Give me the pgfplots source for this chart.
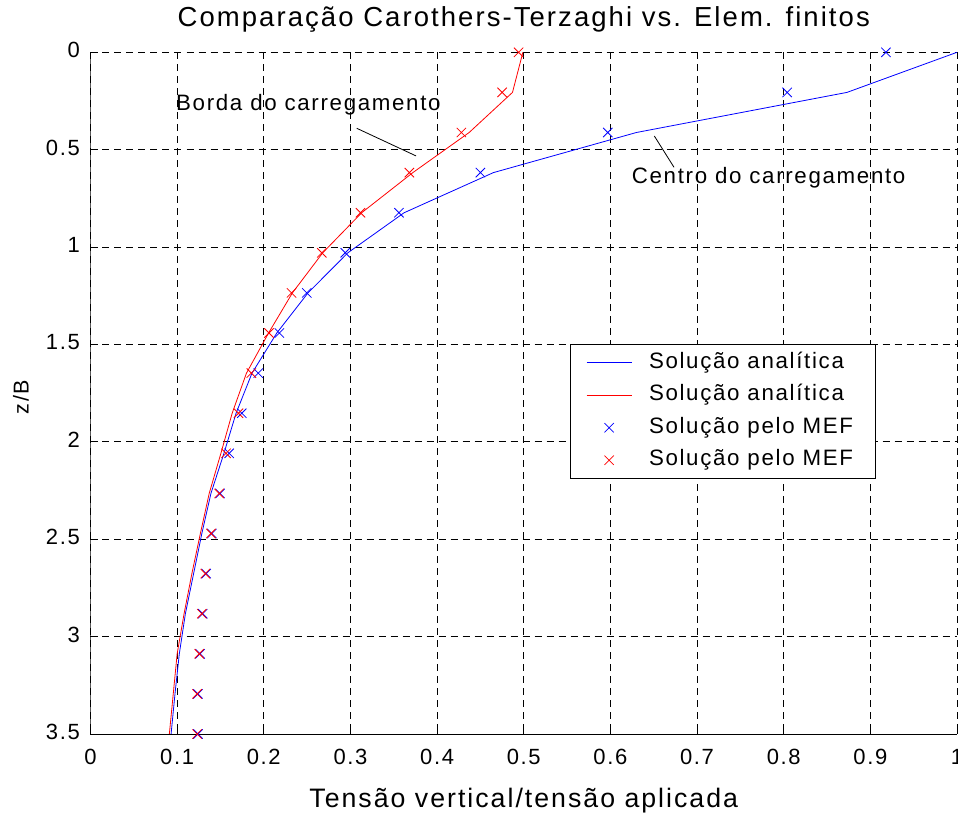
\documentclass[border=0pt]{standalone}
\usepackage{fontspec}
\setmainfont{Liberation Sans}[LetterSpace=7.5]
\usepackage{pgfplots}
\usepackage{pgfplotstable}
\pgfplotsset{compat=1.18}

\pgfplotstableread{
z        b       r       bm      rm
0.00000  1.000   0.499   0.918   0.494
0.20588  0.873   0.487   0.804   0.475
0.41176  0.630   0.437   0.597   0.428
0.61765  0.465   0.372   0.450   0.368
0.82353  0.362   0.313   0.356   0.3116
1.02941  0.297   0.268   0.294   0.267
1.23529  0.251   0.233   0.2496  0.232
1.44118  0.215   0.2055  0.218   0.206
1.64706  0.1864  0.180   0.1936  0.1856
1.85294  0.168   0.1635  0.1746  0.1708
2.05882  0.154   0.1505  0.160   0.1565
2.26471  0.139   0.137   0.1495  0.1485
2.47059  0.1285  0.1268  0.140   0.139
2.67647  0.119   0.117   0.1335  0.1325
2.88235  0.1095  0.108   0.1295  0.1285
3.08824  0.1025  0.100   0.1265  0.1255
3.29412  0.0975  0.0955  0.124   0.123
3.50000  0.093   0.091   0.124   0.123
}\data

\begin{document}
\begin{tikzpicture}
\begin{axis}[
  at={(0,0)}, anchor=south west,
  scale only axis, width=866.5bp, height=681.7bp,
  xmin=0, xmax=1, ymin=0, ymax=3.5, y dir=reverse,
  xtick={0,0.1,0.2,0.3,0.4,0.5,0.6,0.7,0.8,0.9,1},
  ytick={0,0.5,1,1.5,2,2.5,3,3.5},
  xticklabels={0,0.1,0.2,0.3,0.4,0.5,0.6,0.7,0.8,0.9,1},
  yticklabels={0,0.5,1,1.5,2,2.5,3,3.5},
  axis line style={draw=none},
  tick align=inside, major tick length=8bp,
  xtick pos=bottom, ytick pos=left,
  tick style={black, line width=0.8bp},
  grid=major,
  major grid style={black, line width=0.8bp, dash pattern=on 7bp off 5bp},
  ticklabel style={font=\fontsize{22bp}{24bp}\selectfont},
  xticklabel style={anchor=base, inner sep=0pt, yshift=-30bp},
  yticklabel style={anchor=east, inner sep=0pt, xshift=-10.5bp, yshift=2bp},
  title={Comparação Carothers-Terzaghi vs. Elem. finitos},
  title style={at={(axis description cs:0.5,1)}, anchor=base, yshift=20bp, inner sep=0pt,
    font=\fontsize{27.5bp}{30bp}\selectfont},
  xlabel={Tensão vertical/tensão aplicada},
  xlabel style={at={(axis description cs:0.5,0)}, anchor=base, yshift=-73bp, inner sep=0pt,
    font=\fontsize{26.7bp}{30bp}\selectfont},
  ylabel={z/B},
  ylabel style={at={(axis description cs:-0.0802,0.4941)}, anchor=center, inner sep=0pt,
    font=\fontsize{21.5bp}{24bp}\selectfont},
  legend cell align=left,
  legend image code/.code={\draw[mark repeat=2,mark phase=2,#1] plot coordinates {(0bp,0bp) (22.5bp,0bp) (45bp,0bp)};},
  legend style={at={(axis description cs:0.5534,0.5721)}, anchor=north west,
    draw=none, fill=white, name=leg,
    inner xsep=16bp, inner ysep=8bp, row sep=11.5bp, column sep=0bp,
    font=\fontsize{22.3bp}{24bp}\selectfont,
    nodes={inner sep=0pt, text height=16bp, text depth=5bp},
    /tikz/every odd column/.append style={column sep=17bp}},
]
\addplot[blue, line width=0.8bp] table[x=b, y=z] {\data};
\addlegendentry{Solução analítica}
\addplot[red, line width=0.8bp] table[x=r, y=z] {\data};
\addlegendentry{Solução analítica}
\addplot[blue, only marks, mark=x, mark size=6.6bp, mark options={line width=0.8bp}] table[x=bm, y=z] {\data};
\addlegendentry{Solução pelo MEF\hspace*{6bp}}
\addplot[red, only marks, mark=x, mark size=6.6bp, mark options={line width=0.8bp}] table[x=rm, y=z] {\data};
\addlegendentry{Solução pelo MEF\hspace*{6bp}}

\draw[black, line width=0.8bp] (axis cs:0,0) -- (axis cs:0,3.5) -- (axis cs:1,3.5);
\draw[black, line width=0.8bp] (axis cs:0.3072,0.390) -- (axis cs:0.3757,0.532);
\draw[black, line width=0.8bp] (axis cs:0.6507,0.4297) -- (axis cs:0.6734,0.5904);
\node[anchor=base west, inner sep=0pt, font=\fontsize{22.3bp}{24bp}\selectfont] at (axis cs:0.0987,0.2998) {Borda do carregamento};
\node[anchor=base west, inner sep=0pt, font=\fontsize{22.3bp}{24bp}\selectfont] at (axis cs:0.6246,0.6726) {Centro do carregamento};
\end{axis}
\draw[black, line width=0.8bp] (leg.south west) rectangle (leg.north east);
\pgfresetboundingbox
\useasboundingbox (-90.5bp,-80bp) rectangle (867.5bp,734bp);
\end{tikzpicture}
\end{document}
